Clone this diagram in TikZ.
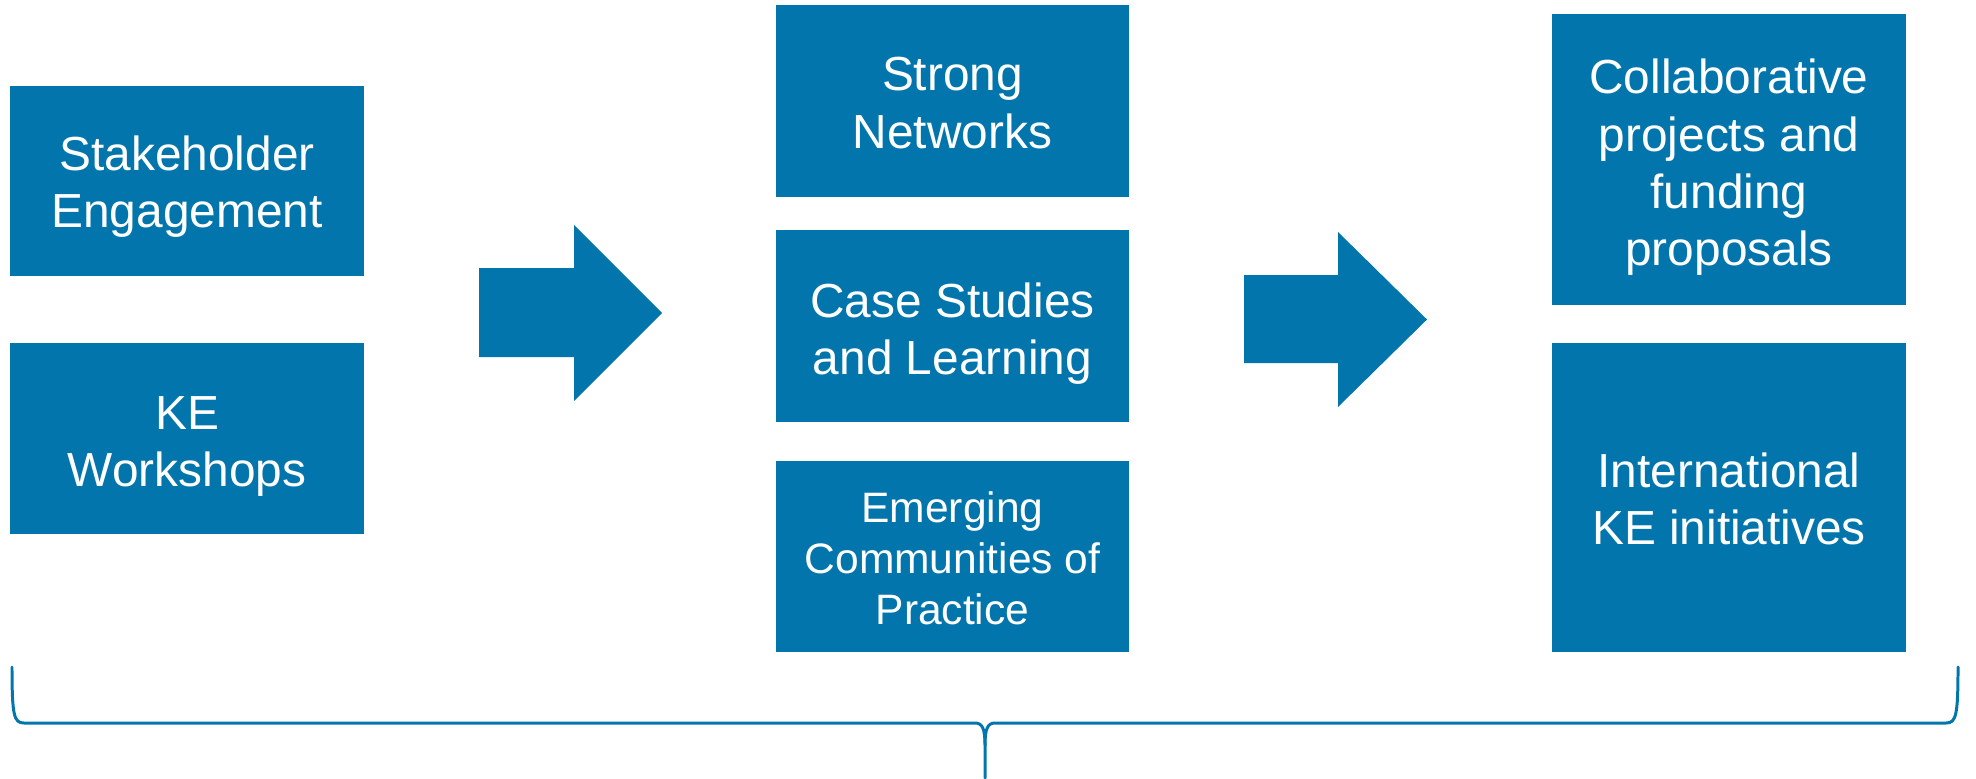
\documentclass[tikz,border=0pt]{standalone}
\usepackage{fontspec}
\setmainfont{Liberation Sans}
\definecolor{kblue}{RGB}{2,118,172}
\newcommand\boxtxt[2][0.08cm]{\raisebox{-#1}[\height][\depth]{\begin{tabular}{@{}c@{}}#2\end{tabular}}}
\begin{document}
\begin{tikzpicture}[x=0.01cm,y=-0.01cm,
  box/.style={fill=kblue, draw=none, text=white, inner sep=0pt,
    font=\fontsize{13.6}{16.3}\selectfont},
  smallbox/.style={box, font=\fontsize{12.1}{14.6}\selectfont},
  blockarrow/.style={fill=kblue, draw=none},
  brace/.style={draw=kblue, line width=0.85pt, line cap=round, line join=round}]
\useasboundingbox (0,0) rectangle (1976,779);
% left column
\node[box, minimum width=3.54cm, minimum height=1.90cm] (stake) at (187,181) {\boxtxt[0.065cm]{Stakeholder\\Engagement}};
\node[box, minimum width=3.54cm, minimum height=1.915cm] (kews) at (187,438.5) {\boxtxt{KE\\Workshops}};
% middle column
\node[box, minimum width=3.53cm, minimum height=1.92cm] (strong) at (952.5,101) {\boxtxt[0.07cm]{Strong\\Networks}};
\node[box, minimum width=3.53cm, minimum height=1.915cm] (case) at (952.5,326.3) {\boxtxt{Case Studies\\and Learning}};
\node[smallbox, minimum width=3.53cm, minimum height=1.905cm] (emerg) at (952.5,556.3) {\boxtxt[0.07cm]{Emerging\\Communities of\\Practice}};
% right column
\node[box, minimum width=3.53cm, minimum height=2.91cm] (collab) at (1729,159.5) {\boxtxt[0.09cm]{Collaborative\\projects and\\funding\\proposals}};
\node[box, minimum width=3.53cm, minimum height=3.09cm] (intl) at (1729,497.2) {\boxtxt[0.07cm]{International\\KE initiatives}};
% block arrows
\fill[blockarrow] (479,268) -- (574,268) -- (574,225) -- (662,313) -- (574,401) -- (574,357) -- (479,357) -- cycle;
\fill[blockarrow] (1244,275) -- (1338,275) -- (1338,232) -- (1427,319.5) -- (1338,407) -- (1338,363) -- (1244,363) -- cycle;
% brace
\coordinate (bl) at (12,667);
\coordinate (br) at (1958,667);
\coordinate (bm) at (985,778);
\draw[brace] (bl) .. controls (12,716) and (14,723) .. (24,723) -- (975,723)
  .. controls (982,723) and (985,728) .. (985,745) -- (bm);
\draw[brace] (br) .. controls (1958,716) and (1956,723) .. (1946,723) -- (995,723)
  .. controls (988,723) and (985,728) .. (985,745);
\end{tikzpicture}
\end{document}
